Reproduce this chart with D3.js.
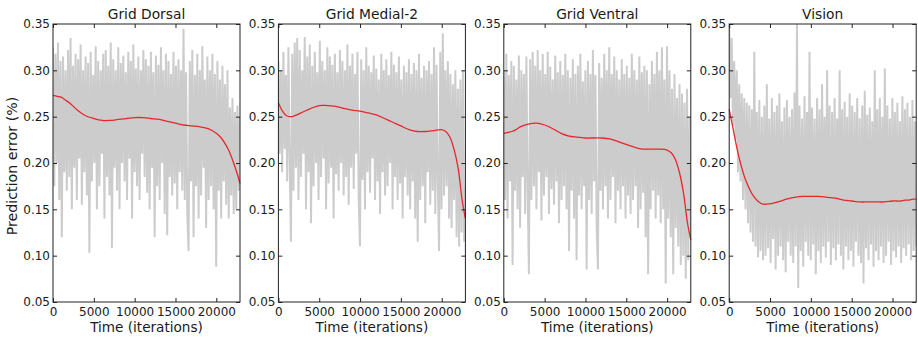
<!DOCTYPE html>
<html>
<head>
<meta charset="utf-8">
<script src="https://cdn.jsdelivr.net/npm/d3@7"></script>
<style>
  body { margin: 0; background: #fff; }
  text { font-family: "DejaVu Sans", sans-serif; fill: #1a1a1a; }
</style>
</head>
<body>
<svg id="chart" width="918" height="338"></svg>
<script>
const panelTitles = ['Grid Dorsal', 'Grid Medial-2', 'Grid Ventral', 'Vision'];
const xTicks = [0, 5000, 10000, 15000, 20000];
const yTicks = [0.05, 0.10, 0.15, 0.20, 0.25, 0.30, 0.35];
const lastIteration = 22900;

// raw prediction error, sampled evenly over training, in thousandths
const dorsalRaw = [
  325,175,318,200,330,160,310,120,315,190,300,170,322,185,335,150,305,195,318,160,312,205,328,155,300,
  190,315,165,308,103,320,180,295,200,326,150,310,175,300,210,318,140,322,185,305,165,330,108,312,195,
  300,170,325,150,308,200,316,180,298,160,320,205,310,140,328,190,302,175,315,160,300,210,322,185,312,
  168,305,150,320,195,298,120,316,175,306,160,325,200,300,145,318,122,310,185,296,165,320,178,305,150,
  312,190,300,170,345,160,298,145,105,310,180,322,120,295,175,318,140,300,165,326,195,290,130,315,160,
  300,175,318,150,296,88,310,170,290,140,305,180,285,155,300,140,260,165,270,145,255,150,262,170,250
];
const medialRaw = [
  310,210,300,190,320,215,295,180,325,200,115,318,170,330,195,335,160,322,185,300,210,336,150,315,190,
  328,135,305,175,320,200,298,160,332,185,310,205,300,150,325,178,315,195,306,140,318,188,298,170,322,
  200,310,165,300,185,328,155,305,195,318,172,296,210,320,160,110,312,182,300,150,325,190,305,168,298,
  205,316,160,302,180,290,145,318,190,300,165,312,175,295,200,320,150,306,185,298,160,315,178,290,140,
  305,185,298,165,312,150,296,180,308,140,300,115,318,160,292,175,305,135,300,190,310,155,296,170,325,
  145,306,180,105,320,150,340,165,300,175,310,140,296,130,285,160,300,120,280,110,290,125,300,115,175
];
const ventralRaw = [
  300,160,318,140,295,180,310,90,305,170,290,150,316,130,300,185,296,145,315,170,80,312,160,320,175,
  305,150,322,190,300,138,318,165,296,185,320,145,304,172,290,155,316,180,298,135,310,160,295,175,318,
  150,300,105,292,170,312,140,296,95,305,165,318,150,288,175,300,85,310,160,296,145,322,180,295,130,
  85,308,170,292,150,318,175,300,140,325,160,296,185,315,135,300,170,290,150,312,175,296,140,305,165,
  292,145,318,160,300,175,290,130,315,150,298,168,305,120,300,80,285,150,310,170,296,140,320,165,300,
  135,325,150,290,70,326,140,300,120,280,80,296,130,270,110,285,90,275,100,265,75,280,95,250,120
];
const visionRaw = [
  350,270,335,240,310,225,300,190,285,180,275,160,270,150,265,135,262,125,258,115,320,110,255,98,268,
  105,250,95,262,100,285,108,248,92,270,118,255,85,262,100,275,110,245,95,260,82,268,115,250,100,
  258,92,276,110,350,65,262,105,248,88,272,115,255,100,320,95,260,112,248,80,270,105,258,92,285,
  110,250,98,300,115,262,90,255,108,270,95,248,112,300,100,258,85,266,110,250,95,275,105,262,88,
  255,115,270,100,248,92,262,70,278,108,252,95,260,112,245,88,300,105,258,95,270,110,250,92,302,
  100,262,115,248,90,270,105,255,98,265,110,245,92,272,108,258,100,265,112,250,95,268,105,245,110
];

// smoothed fit (red), read at these iterations
const trendIters = [0,500,1000,1500,2000,3000,4000,5000,6000,7000,8000,9000,10000,11000,12000,
  13000,14000,15000,16000,17000,18000,19000,20000,20500,21000,21500,22000,22500,22900];
const dorsalTrend = [0.273,0.272,0.271,0.268,0.265,0.257,0.251,0.248,0.246,0.246,0.247,0.248,0.249,0.249,0.248,
  0.247,0.245,0.243,0.241,0.240,0.239,0.237,0.232,0.228,0.222,0.214,0.203,0.190,0.178];
const medialTrend = [0.265,0.256,0.251,0.250,0.251,0.255,0.259,0.262,0.262,0.261,0.259,0.257,0.256,0.254,0.252,
  0.248,0.244,0.240,0.236,0.234,0.234,0.235,0.236,0.234,0.228,0.215,0.195,0.160,0.140];
const ventralTrend = [0.232,0.233,0.234,0.236,0.239,0.242,0.243,0.241,0.237,0.232,0.229,0.228,0.227,0.227,0.227,
  0.226,0.223,0.220,0.217,0.215,0.215,0.215,0.214,0.211,0.204,0.190,0.168,0.135,0.117];
const visionTrend = [0.258,0.236,0.214,0.196,0.182,0.164,0.156,0.156,0.158,0.161,0.163,0.164,0.164,0.164,0.163,
  0.162,0.160,0.159,0.158,0.158,0.158,0.158,0.159,0.159,0.159,0.160,0.160,0.161,0.161];

const rawSeries = [dorsalRaw, medialRaw, ventralRaw, visionRaw];
const trendSeries = [dorsalTrend, medialTrend, ventralTrend, visionTrend];

const svg = d3.select('#chart');
const plotTop = 24, plotBottom = 302;
const firstLeft = 53, pitch = 225.4, plotW = 187;

const y = d3.scaleLinear().domain([0.05, 0.35]).range([plotBottom, plotTop]);

panelTitles.forEach((title, p) => {
  const left = firstLeft + p * pitch;
  const x = d3.scaleLinear().domain([0, lastIteration]).range([left, left + plotW]);
  const g = svg.append('g');

  g.append('clipPath').attr('id', 'clip' + p)
    .append('rect').attr('x', left).attr('y', plotTop).attr('width', plotW).attr('height', plotBottom - plotTop);

  const raw = rawSeries[p];
  const step = lastIteration / (raw.length - 1);
  const line = d3.line().x((d, i) => x(i * step)).y(d => y(d / 1000));

  g.append('path')
    .attr('clip-path', `url(#clip${p})`)
    .attr('d', line(raw))
    .attr('fill', 'none')
    .attr('stroke', '#cccccc')
    .attr('stroke-width', 2)
    .attr('stroke-linejoin', 'bevel');

  const trend = d3.line().curve(d3.curveCatmullRom)
    .x((d, i) => x(trendIters[i])).y(d => y(d));
  g.append('path')
    .attr('d', trend(trendSeries[p]))
    .attr('fill', 'none')
    .attr('stroke', '#e8262b')
    .attr('stroke-width', 1.3);

  // axes, ticks pointing inward on all four sides
  const ax = (a, tr) => g.append('g').attr('transform', tr).call(a)
    .call(s => s.select('.domain').remove())
    .call(s => s.selectAll('line').attr('stroke', '#222'))
    .call(s => s.selectAll('text').attr('font-size', 12).attr('fill', '#1a1a1a').attr('font-family', null));

  ax(d3.axisBottom(x).tickValues(xTicks).tickSize(-4).tickPadding(5).tickFormat(d3.format('d')), `translate(0,${plotBottom})`);
  ax(d3.axisTop(x).tickValues(xTicks).tickSize(-4).tickFormat(''), `translate(0,${plotTop})`);
  ax(d3.axisLeft(y).tickValues(yTicks).tickSize(-4).tickPadding(3).tickFormat(d3.format('.2f')), `translate(${left},0)`);
  ax(d3.axisRight(y).tickValues(yTicks).tickSize(-4).tickFormat(''), `translate(${left + plotW},0)`);

  g.append('rect')
    .attr('x', left).attr('y', plotTop).attr('width', plotW).attr('height', plotBottom - plotTop)
    .attr('fill', 'none').attr('stroke', '#222').attr('stroke-width', 1);

  g.append('text')
    .attr('x', left + plotW / 2).attr('y', 19)
    .attr('text-anchor', 'middle').attr('font-size', 13.8)
    .text(title);

  g.append('text')
    .attr('x', left + plotW / 2).attr('y', 332)
    .attr('text-anchor', 'middle').attr('font-size', 13.6)
    .text('Time (iterations)');
});

svg.append('text')
  .attr('transform', `translate(17,166) rotate(-90)`)
  .attr('text-anchor', 'middle').attr('font-size', 14.2)
  .text('Prediction error (%)');
</script>
</body>
</html>
